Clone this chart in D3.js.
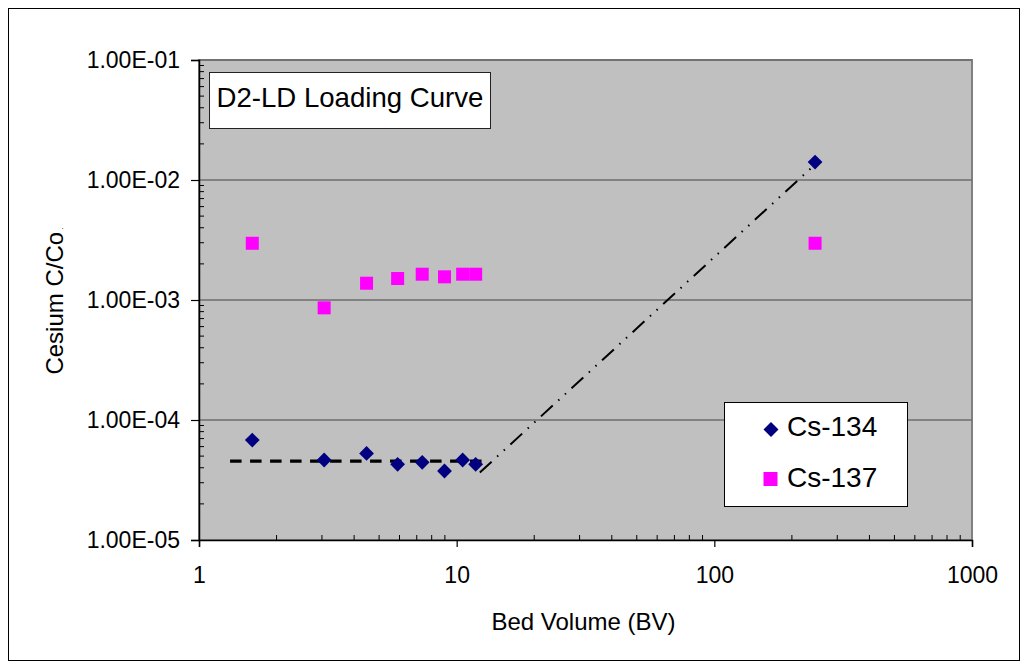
<!DOCTYPE html>
<html><head><meta charset="utf-8">
<script src="https://cdn.jsdelivr.net/npm/d3@7"></script>
<style>body{margin:0;background:#fff}svg{display:block}text{font-family:"Liberation Sans",Arial,sans-serif;fill:#000}</style>
</head><body>
<svg id="c" width="1028" height="669"></svg>
<script>
// ---- data ----
const bedVolume = [1.61, 3.06, 4.47, 5.9, 7.35, 8.97, 10.55, 11.85, 246];
const cs134 = [6.8e-5, 4.64e-5, 5.27e-5, 4.27e-5, 4.44e-5, 3.76e-5, 4.64e-5, 4.27e-5, 1.41e-2];
const cs137 = [2.97e-3, 8.6e-4, 1.38e-3, 1.51e-3, 1.64e-3, 1.56e-3, 1.64e-3, 1.64e-3, 2.97e-3];
const flatLine = [[1.32, 4.55e-5], [13.1, 4.55e-5]];
const riseLine = [[12.3, 3.65e-5], [237, 1.25e-2]];
const yTicks = [1e-5, 1e-4, 1e-3, 1e-2, 1e-1];
const yTickLabels = ["1.00E-05", "1.00E-04", "1.00E-03", "1.00E-02", "1.00E-01"];
const xTicks = [1, 10, 100, 1000];
const xTickLabels = ["1", "10", "100", "1000"];
const seriesNames = ["Cs-134", "Cs-137"];
const chartTitle = "D2-LD Loading Curve";

const svg = d3.select("#c");
const L = 199, R = 972, T = 60, B = 540;
const x = d3.scaleLog().domain([1, 1000]).range([L, R]);
const y = d3.scaleLog().domain([1e-5, 1e-1]).range([B, T]);

// outer border
svg.append("rect").attr("x", 8.5).attr("y", 8.5).attr("width", 1011).attr("height", 652)
  .attr("fill", "#fff").attr("stroke", "#000").attr("stroke-width", 1);

// plot area
svg.append("rect").attr("x", L).attr("y", T).attr("width", R - L).attr("height", B - T)
  .attr("fill", "#c0c0c0").attr("stroke", "#808080").attr("stroke-width", 2);

// gridlines
svg.append("g").selectAll("line").data(yTicks.slice(1)).join("line")
  .attr("x1", L).attr("x2", R).attr("y1", d => y(d)).attr("y2", d => y(d))
  .attr("stroke", "#6e6e6e").attr("stroke-width", 1.5);

// minor ticks
const minors = (lo, hi) => { const a = []; for (let e = lo; e < hi; e++) for (let m = 2; m <= 9; m++) a.push(m * Math.pow(10, e)); return a; };
svg.append("g").selectAll("line").data(minors(-5, -1)).join("line")
  .attr("x1", L).attr("x2", L + 5).attr("y1", d => y(d)).attr("y2", d => y(d))
  .attr("stroke", "#000").attr("stroke-width", 1);
svg.append("g").selectAll("line").data(minors(0, 3)).join("line")
  .attr("y1", B).attr("y2", B - 5).attr("x1", d => x(d)).attr("x2", d => x(d))
  .attr("stroke", "#000").attr("stroke-width", 1);

// axes
const yAxis = d3.axisLeft(y).tickValues(yTicks).tickSize(8).tickPadding(11)
  .tickFormat((d, i) => yTickLabels[i]);
const gy = svg.append("g").attr("transform", `translate(${L},0)`).call(yAxis);
const xAxis = d3.axisBottom(x).tickValues(xTicks).tickSize(7).tickPadding(20)
  .tickFormat((d, i) => xTickLabels[i]);
const gx = svg.append("g").attr("transform", `translate(0,${B})`).call(xAxis);
[gx, gy].forEach(g => {
  g.select(".domain").attr("stroke", "#000").attr("stroke-width", 1.5);
  g.selectAll(".tick line").attr("stroke", "#000").attr("stroke-width", 1.2);
  g.selectAll(".tick text").attr("font-family", "Liberation Sans, Arial, sans-serif")
    .attr("font-size", 23).attr("fill", "#000");
});
gy.selectAll(".tick text").attr("dy", "0.34em");
gx.selectAll(".tick text").attr("dy", "0.71em");

// trend lines
const line = d3.line().x(d => x(d[0])).y(d => y(d[1]));
svg.append("path").attr("d", line(flatLine)).attr("fill", "none")
  .attr("stroke", "#000").attr("stroke-width", 3.3).attr("stroke-dasharray", "11.5,8.5");
svg.append("path").attr("d", line(riseLine)).attr("fill", "none")
  .attr("stroke", "#000").attr("stroke-width", 2).attr("stroke-dasharray", "16,7.5,1.5,7.5,1.5,7.5");

// markers
const diamond = s => `M0,${-s}L${s},0L0,${s}L${-s},0Z`;
svg.append("g").selectAll("path").data(bedVolume.map((v, i) => [v, cs134[i]])).join("path")
  .attr("d", diamond(7.4)).attr("transform", d => `translate(${x(d[0])},${y(d[1])})`)
  .attr("fill", "#000080");
svg.append("g").selectAll("rect").data(bedVolume.map((v, i) => [v, cs137[i]])).join("rect")
  .attr("x", d => x(d[0]) - 6.5).attr("y", d => y(d[1]) - 6.5).attr("width", 13).attr("height", 13)
  .attr("fill", "#ff00ff");

// title box
svg.append("rect").attr("x", 209.5).attr("y", 72.5).attr("width", 281).attr("height", 56)
  .attr("fill", "#fff").attr("stroke", "#222").attr("stroke-width", 1);
svg.append("text").attr("x", 216.5).attr("y", 107).attr("font-size", 27.6).text(chartTitle);

// legend
svg.append("rect").attr("x", 724.5).attr("y", 402.5).attr("width", 183).attr("height", 104)
  .attr("fill", "#fff").attr("stroke", "#000").attr("stroke-width", 1);
svg.append("path").attr("d", diamond(7.5)).attr("transform", "translate(771,429.5)").attr("fill", "#000080");
svg.append("rect").attr("x", 763.5).attr("y", 472).attr("width", 14).attr("height", 14).attr("fill", "#ff00ff");
svg.append("text").attr("x", 787).attr("y", 435.5).attr("font-size", 28).text(seriesNames[0]);
svg.append("text").attr("x", 787).attr("y", 487).attr("font-size", 28).text(seriesNames[1]);

// axis titles
svg.append("text").attr("x", 583.5).attr("y", 630).attr("text-anchor", "middle").attr("font-size", 24)
  .text("Bed Volume (BV)");
const yt = svg.append("text").attr("transform", "translate(63,301) rotate(-90)").attr("text-anchor", "middle")
  .attr("font-size", 24);
yt.append("tspan").text("Cesium C/Co");
yt.append("tspan").attr("font-size", 8).text(" .");
</script>
</body></html>
